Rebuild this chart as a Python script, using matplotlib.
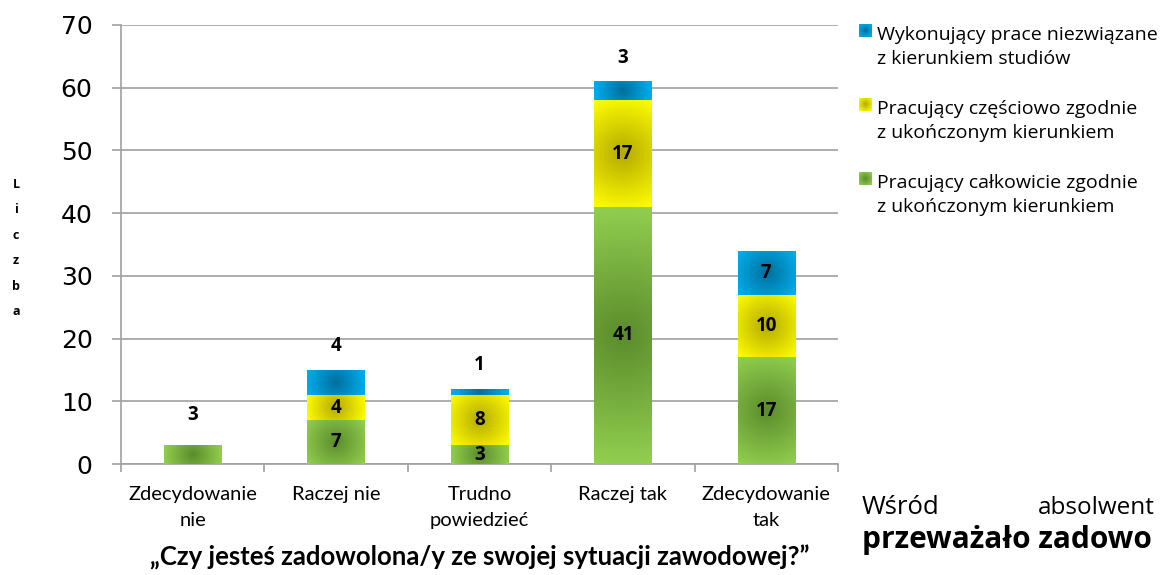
import numpy as np
import matplotlib.pyplot as plt
from matplotlib.colors import to_rgb

# data
categories = ['Zdecydowanie\nnie', 'Raczej nie', 'Trudno\npowiedzieć', 'Raczej tak', 'Zdecydowanie\ntak']
full_match = [3, 7, 3, 41, 17]      # Pracujący całkowicie zgodnie
partial_match = [0, 4, 8, 17, 10]   # Pracujący częściowo zgodnie
unrelated = [0, 4, 1, 3, 7]         # Wykonujący prace niezwiązane
series_names = ['Wykonujący prace niezwiązane\nz kierunkiem studiów',
                'Pracujący częściowo zgodnie\nz ukończonym kierunkiem',
                'Pracujący całkowicie zgodnie\nz ukończonym kierunkiem']
y_ticks = [0, 10, 20, 30, 40, 50, 60, 70]

W, H = 1162, 575
FONT = ['Open Sans', 'DejaVu Sans']
NARROW = ['Lato', 'DejaVu Sans']

# (light edge, dark centre) for each series
green = ('#92d050', '#5b8c2c')
yellow = ('#ffff00', '#b4aa00')
blue = ('#00b0f0', '#006f9c')


def radial(light, dark, w_px, h_px):
    w = max(int(round(w_px)), 2)
    h = max(int(round(h_px)), 2)
    xs = np.linspace(-w_px / 2, w_px / 2, w)
    ys = np.linspace(-h_px / 2, h_px / 2, h)
    X, Y = np.meshgrid(xs, ys)
    t = np.clip(np.hypot(X, Y) / np.hypot(w_px / 2, h_px / 2), 0, 1)
    lt, dk = np.array(to_rgb(light)), np.array(to_rgb(dark))
    return dk + (lt - dk) * t[..., None]


fig = plt.figure(figsize=(W / 100, H / 100), dpi=100)
ax = fig.add_axes([121 / W, 1 - 464 / H, (838 - 121) / W, (464 - 25) / H])
x = np.arange(len(categories))
ax.set_xlim(-0.5, len(categories) - 0.5)
ax.set_ylim(0, 70)

grid_c = '#a0a0a0'
ax.set_yticks(y_ticks)
ax.yaxis.grid(True, color=grid_c, linewidth=1.2, zorder=0)
ax.set_axisbelow(True)
for s in ['top', 'right']:
    ax.spines[s].set_visible(False)
for s in ['left', 'bottom']:
    ax.spines[s].set_color(grid_c)
    ax.spines[s].set_linewidth(1.2)
ax.tick_params(axis='y', length=6.5, width=1.2, color=grid_c, pad=14, labelsize=18)
ax.set_xticks(x)
ax.set_xticklabels(categories, fontsize=14.5, family=NARROW, linespacing=1.6)
ax.set_xticks(np.arange(-0.5, len(categories)), minor=True)
ax.tick_params(axis='x', which='major', length=0, pad=16)
ax.tick_params(axis='x', which='minor', length=6, width=1.2, color=grid_c)

ax.set_xlabel('„Czy jesteś zadowolona/y ze swojej sytuacji zawodowej?”',
              fontsize=18.5, fontweight='bold', family=NARROW, labelpad=12)

bottom = np.zeros(len(categories))
layers = []
for vals, cols in [(full_match, green), (partial_match, yellow), (unrelated, blue)]:
    bars = ax.bar(x, vals, width=0.4, bottom=bottom, color=cols[0], zorder=2)
    layers.append((bars, vals, cols, bottom.copy()))
    bottom = bottom + np.array(vals)

fig.canvas.draw()
for bars, vals, cols, _ in layers:
    for rect in bars:
        if rect.get_height() <= 0:
            continue
        x0, y0 = rect.get_x(), rect.get_y()
        x1, y1 = x0 + rect.get_width(), y0 + rect.get_height()
        (px0, py0), (px1, py1) = ax.transData.transform([(x0, y0), (x1, y1)])
        img = radial(cols[0], cols[1], px1 - px0, py1 - py0)
        im = ax.imshow(img, extent=(x0, x1, y0, y1), aspect='auto',
                       interpolation='bilinear', zorder=3)
        im.set_clip_path(rect)
ax.set_xlim(-0.5, len(categories) - 0.5)
ax.set_ylim(0, 70)

lbl = dict(ha='center', va='center', fontsize=13.5, fontweight='bold', family=FONT, zorder=5)
# green and yellow labels inside their segments
for bars, vals, cols, base in layers[:2]:
    for i, v in enumerate(vals):
        if v == 0:
            continue
        if i == 0 and bars is layers[0][0]:
            ax.annotate(str(v), (x[i], base[i] + v), xytext=(0, 22),
                        textcoords='offset points', **lbl)
        else:
            ax.text(x[i], base[i] + v / 2, str(v), **lbl)
# blue labels: above the bar, except the last one which sits inside
bars, vals, cols, base = layers[2]
for i, v in enumerate(vals):
    if v == 0:
        continue
    if i < len(vals) - 1:
        ax.annotate(str(v), (x[i], base[i] + v), xytext=(0, 17),
                    textcoords='offset points', **lbl)
    else:
        ax.text(x[i], base[i] + v / 2, str(v), **lbl)

# y label, one letter per line
fig.text(16 / W, 1 - 248 / H, 'L\ni\nc\nz\nb\na', ha='center', va='center',
         fontsize=9, fontweight='bold', family=FONT, linespacing=2.25)

# legend with gradient squares
leg_cols = [blue, yellow, green]
leg_tops = [24, 98, 172]
for name, cols, top in zip(series_names, leg_cols, leg_tops):
    sq = fig.add_axes([859 / W, 1 - (top + 13) / H, 13 / W, 13 / H])
    sq.imshow(radial(cols[0], cols[1], 13, 13), aspect='auto', interpolation='bilinear')
    sq.axis('off')
    fig.text(877 / W, 1 - (top + 2) / H, name, ha='left', va='top',
             fontsize=14, family=FONT, linespacing=1.42)

# cut-off text from the page below the chart
fig.text(862 / W, 1 - 508 / H, 'Wśród', ha='left', va='center', fontsize=18.5, family=FONT)
fig.text(1038 / W, 1 - 508 / H, 'absolwent', ha='left', va='center', fontsize=17.5, family=FONT)
fig.text(862 / W, 1 - 540 / H, 'przeważało zadowo', ha='left', va='center',
         fontsize=21.5, fontweight='bold', family=FONT)

fig.savefig('out.png', dpi=100)
